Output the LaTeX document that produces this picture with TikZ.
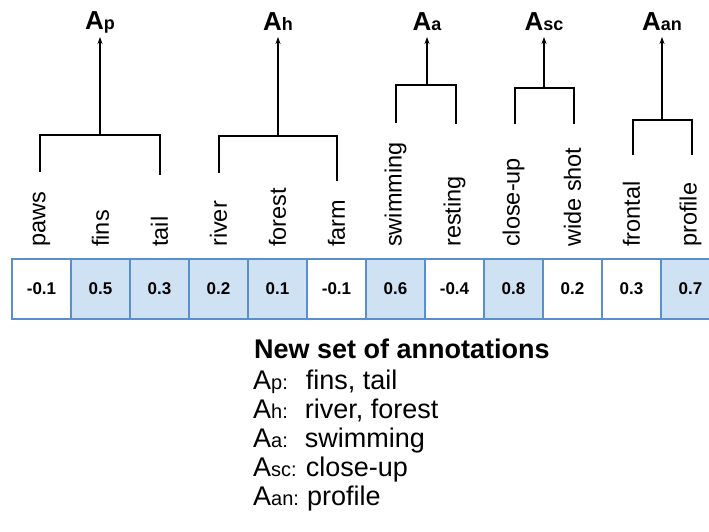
\documentclass[tikz,border=0pt]{standalone}
\usepackage{fontspec}
\setmainfont{Liberation Sans}
\usetikzlibrary{positioning,arrows.meta}
\definecolor{cellblue}{HTML}{5A8FCF}
\definecolor{celllight}{HTML}{CFE2F3}
\newcommand{\grpA}[1]{A{\fontsize{18}{18}\selectfont #1}}
\newcommand{\lstA}[1]{A{\fontsize{20}{20}\selectfont #1:}}

\begin{document}
\begin{tikzpicture}[x=1pt, y=-1pt,
  cell/.style={draw=cellblue, line width=1.2pt, minimum width=59pt, minimum height=60pt, inner sep=0pt, font=\fontsize{17}{17}\selectfont\bfseries},
  hot/.style={fill=celllight},
  tag/.style={rotate=90, anchor=west, inner sep=0pt, font=\fontsize{23.5}{23.5}\selectfont},
  grp/.style={inner sep=0pt, font=\fontsize{26}{26}\selectfont\bfseries},
  lst/.style={anchor=base west, inner sep=0pt, font=\fontsize{27}{27}\selectfont},
  brk/.style={line width=1.3pt},
  arr/.style={-{Stealth[length=7pt, width=5pt]}, line width=1.3pt}]
 \useasboundingbox (0,0) rectangle (709,531);
 % value cells with their tags
 \foreach \i/\t/\v/\s in {1/paws/-0.1/, 2/fins/0.5/hot, 3/tail/0.3/hot, 4/river/0.2/hot,
   5/forest/0.1/hot, 6/farm/-0.1/, 7/swimming/0.6/hot, 8/resting/-0.4/,
   9/close-up/0.8/hot, 10/wide shot/0.2/, 11/frontal/0.3/, 12/profile/0.7/hot} {
   \node[cell, \s] (c\i) at ({41.5+59*(\i-1)}, 289) {\v};
   \node[tag] (t\i) at ({41.5+59*(\i-1)}, 247) {\t};
 }
 % group heads
 \node[grp] (gp) at (100, 22) {\grpA{p}};
 \node[grp] (gh) at (278, 22) {\grpA{h}};
 \node[grp] (ga) at (427, 22) {\grpA{a}};
 \node[grp] (gsc) at (544, 22) {\grpA{sc}};
 \node[grp] (gan) at (662, 22) {\grpA{an}};
 % brackets
 \coordinate (bp) at (100, 135);  \coordinate (pl) at (40, 172);  \coordinate (pr) at (160, 175);
 \coordinate (bh) at (278, 136);  \coordinate (hl) at (219, 173); \coordinate (hr) at (337, 181);
 \coordinate (ba) at (427, 85);   \coordinate (al) at (396, 123); \coordinate (ar) at (456, 124);
 \coordinate (bsc) at (544, 88);  \coordinate (sl) at (515, 124); \coordinate (sr) at (574, 124);
 \coordinate (ban) at (662, 120); \coordinate (nl) at (633, 155); \coordinate (nr) at (692, 155);
 \foreach \b/\l/\r/\g in {bp/pl/pr/gp, bh/hl/hr/gh, ba/al/ar/ga, bsc/sl/sr/gsc, ban/nl/nr/gan} {
   \draw[brk] (\l) |- (\b) -| (\r);
   \draw[arr] (\b) -- (\g.south |- 0,37);
 }
 % result list
 \node[lst, font=\fontsize{27}{27}\selectfont\bfseries] (res) at (254, 358) {New set of annotations};
 \foreach \s/\t [count=\k] in {p/{\hspace{18pt}fins, tail}, h/{\hspace{17pt}river, forest},
   a/{\hspace{17pt}swimming}, sc/{\hspace{9pt}close-up}, an/{\hspace{8pt}profile}}
   \node[lst] (l\k) at (253, {360+29*\k}) {\lstA{\s}\t};
\end{tikzpicture}
\end{document}
